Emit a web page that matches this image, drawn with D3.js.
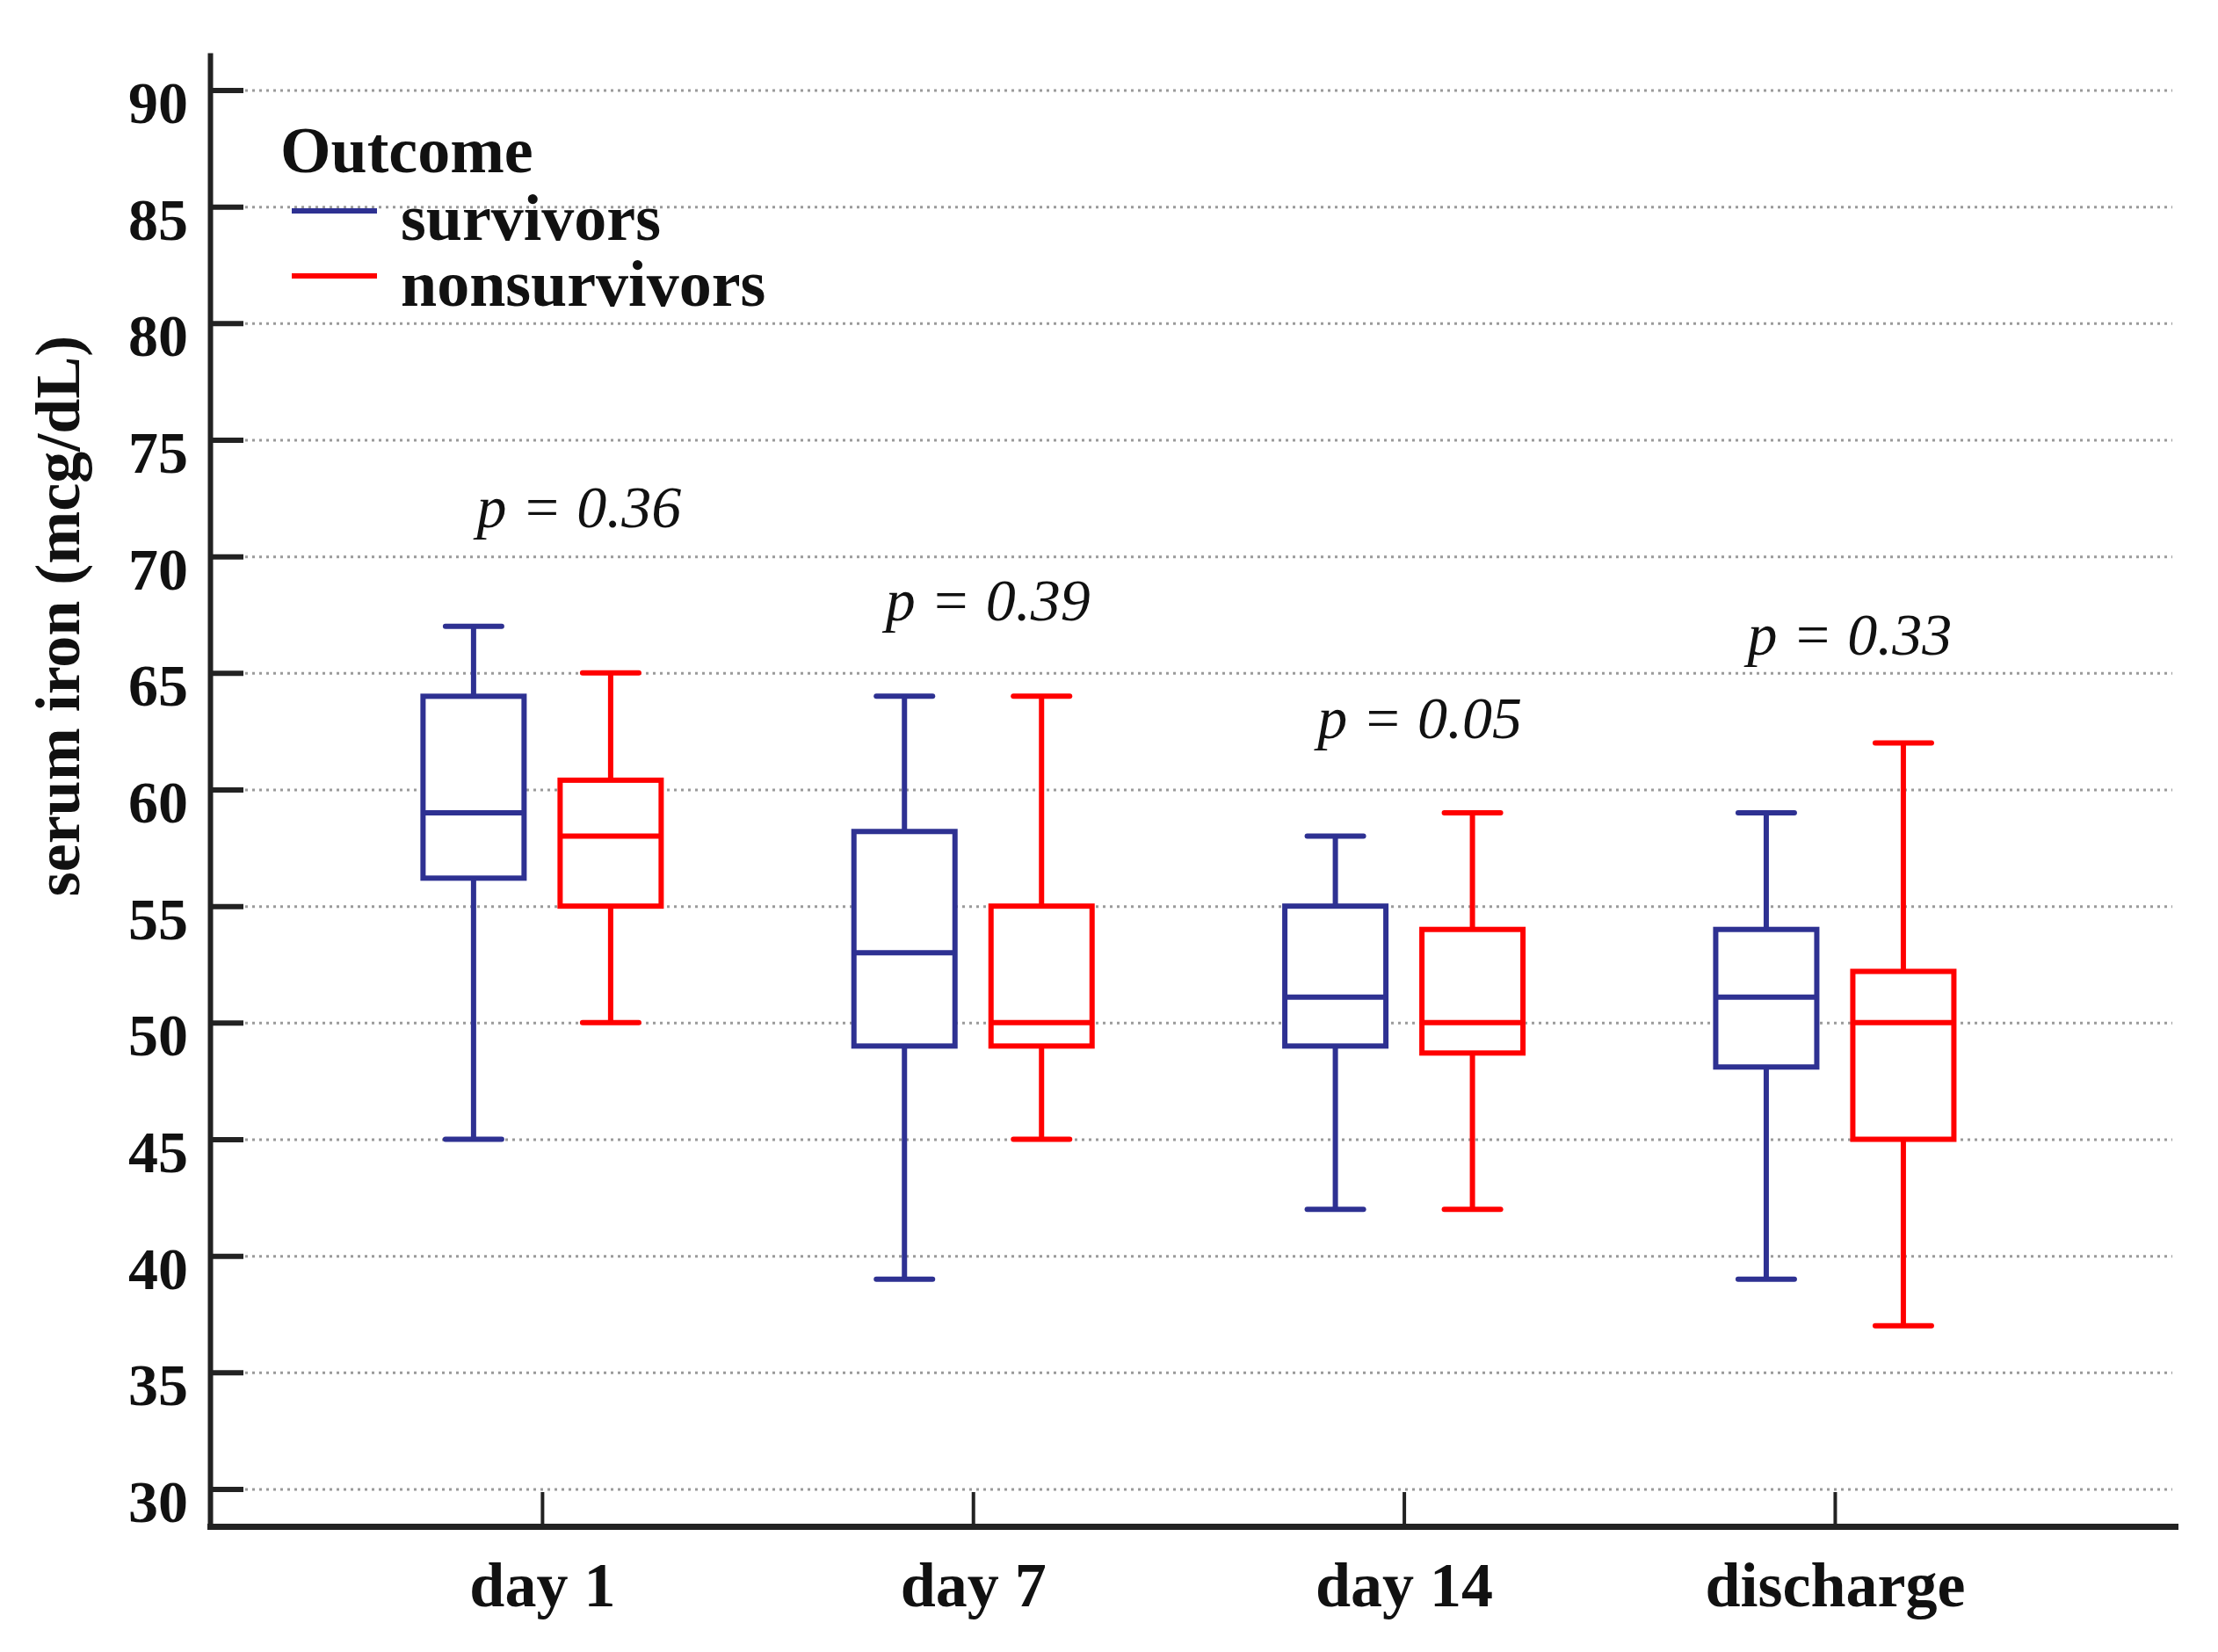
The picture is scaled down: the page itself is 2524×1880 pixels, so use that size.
<!DOCTYPE html>
<html>
<head>
<meta charset="utf-8">
<script src="https://cdn.jsdelivr.net/npm/d3@7"></script>
<style>
  body { margin: 0; background: #fff; }
  text { font-family: "Liberation Serif", "Times New Roman", serif; fill: #111; }
</style>
</head>
<body>
<div id="chart"></div>
<script>
// serum iron box plots, survivors vs nonsurvivors

var categories = ["day 1", "day 7", "day 14", "discharge"];
var groups = ["survivors", "nonsurvivors"];
var yTicks = [30, 35, 40, 45, 50, 55, 60, 65, 70, 75, 80, 85, 90];

// five number summaries
var survMin = [45, 39, 42, 39];
var survQ1  = [56.2, 49, 49, 48.1];
var survMed = [59, 53, 51.1, 51.1];
var survQ3  = [64, 58.2, 55, 54];
var survMax = [67, 64, 58, 59];

var nonMin = [50, 45, 42, 37];
var nonQ1  = [55, 49, 48.7, 45];
var nonMed = [58, 50, 50, 50];
var nonQ3  = [60.4, 55, 54, 52.2];
var nonMax = [65, 64, 59, 62];

var pValues = ["0.36", "0.39", "0.05", "0.33"];
var pLabelAt = [71.25, 67.25, 62.2, 65.8]; // value level of the p label baseline

var colors = { survivors: "#2e3192", nonsurvivors: "#ff0000" };

var W = 2524, H = 1880;
// plot edges (window.top is reserved, hence the prefixes)
var pLeft = 239, pRight = 2475, pTop = 60, pBottom = 1737;

var svg = d3.select("#chart").append("svg")
  .attr("width", W)
  .attr("height", H);

var y = d3.scaleLinear().domain([28.4, 91.6]).range([pBottom, pTop]);
var x = d3.scalePoint().domain(categories).range([pLeft, pRight]).padding(0.78).align(0.494);
var xSub = d3.scalePoint().domain(groups).range([-78, 78]);

// dotted grid lines
svg.append("g")
  .attr("transform", "translate(" + pLeft + ",0)")
  .call(d3.axisLeft(y).tickValues(yTicks).tickSize(-(2472 - pLeft)).tickFormat(""))
  .call(function(g) { g.select(".domain").remove(); })
  .selectAll("line")
  .attr("stroke", "#9a9a9a")
  .attr("stroke-width", 3)
  .attr("stroke-dasharray", "3,5");

// y axis, ticks pointing inward
var yAxis = svg.append("g")
  .attr("transform", "translate(" + pLeft + ",0)")
  .call(d3.axisLeft(y).tickValues(yTicks).tickSizeInner(-38).tickSizeOuter(0).tickPadding(25));
yAxis.select(".domain").attr("stroke", "#222").attr("stroke-width", 6);
yAxis.selectAll(".tick line").attr("stroke", "#222").attr("stroke-width", 6);
yAxis.selectAll(".tick text")
  .attr("dy", null)
  .attr("y", 37)
  .style("font-size", "68px")
  .style("font-weight", "bold")
  .attr("fill", "#111");

// x axis, ticks pointing up
var xAxis = svg.append("g")
  .attr("transform", "translate(0," + pBottom + ")")
  .call(d3.axisBottom(x).tickSizeInner(-39).tickSizeOuter(0));
xAxis.select(".domain").attr("stroke", "#222").attr("stroke-width", 7).attr("stroke-linecap", "square");
xAxis.selectAll(".tick line").attr("stroke", "#222").attr("stroke-width", 4);
xAxis.selectAll(".tick text")
  .attr("dy", null)
  .attr("y", 91)
  .style("font-size", "72px")
  .style("font-weight", "bold")
  .attr("fill", "#111");

// y axis title
svg.append("text")
  .attr("transform", "translate(90," + 701 + ") rotate(-90)")
  .attr("text-anchor", "middle")
  .style("font-size", "72px")
  .style("font-weight", "bold")
  .text("serum iron (mcg/dL)");

// build box rows
var boxes = [];
categories.forEach(function(c, i) {
  boxes.push({ cat: c, grp: "survivors", min: survMin[i], q1: survQ1[i], med: survMed[i], q3: survQ3[i], max: survMax[i] });
  boxes.push({ cat: c, grp: "nonsurvivors", min: nonMin[i], q1: nonQ1[i], med: nonMed[i], q3: nonQ3[i], max: nonMax[i] });
});

var boxW = 115, capW = 64, sw = 6;

var b = svg.append("g").selectAll("g.box")
  .data(boxes)
  .enter().append("g")
  .attr("class", "box")
  .attr("transform", function(d) { return "translate(" + (x(d.cat) + xSub(d.grp)) + ",0)"; })
  .attr("stroke", function(d) { return colors[d.grp]; })
  .attr("stroke-width", sw)
  .attr("fill", "none");

// whiskers
b.append("line")
  .attr("x1", 0).attr("x2", 0)
  .attr("y1", function(d) { return y(d.q3); })
  .attr("y2", function(d) { return y(d.max); });
b.append("line")
  .attr("x1", 0).attr("x2", 0)
  .attr("y1", function(d) { return y(d.q1); })
  .attr("y2", function(d) { return y(d.min); });
// caps
b.append("line")
  .attr("stroke-linecap", "round")
  .attr("x1", -capW / 2).attr("x2", capW / 2)
  .attr("y1", function(d) { return y(d.max); })
  .attr("y2", function(d) { return y(d.max); });
b.append("line")
  .attr("stroke-linecap", "round")
  .attr("x1", -capW / 2).attr("x2", capW / 2)
  .attr("y1", function(d) { return y(d.min); })
  .attr("y2", function(d) { return y(d.min); });
// box
b.append("rect")
  .attr("x", -boxW / 2)
  .attr("width", boxW)
  .attr("y", function(d) { return y(d.q3); })
  .attr("height", function(d) { return y(d.q1) - y(d.q3); })
  .attr("fill", "#fff");
// median
b.append("line")
  .attr("x1", -boxW / 2).attr("x2", boxW / 2)
  .attr("y1", function(d) { return y(d.med); })
  .attr("y2", function(d) { return y(d.med); });

// p labels
var pNudge = [42, 17, 18, 17];
svg.append("g").selectAll("text")
  .data(pValues)
  .enter().append("text")
  .attr("x", function(d, i) { return x(categories[i]) + pNudge[i]; })
  .attr("y", function(d, i) { return y(pLabelAt[i]); })
  .attr("text-anchor", "middle")
  .style("font-size", "68px")
  .style("font-style", "italic")
  .text(function(d) { return "p = " + d; });

// legend
var lg = svg.append("g");
lg.append("text")
  .attr("x", 319).attr("y", 196)
  .style("font-size", "74px")
  .style("font-weight", "bold")
  .text("Outcome");
groups.forEach(function(g, i) {
  lg.append("line")
    .attr("x1", 332).attr("x2", 429)
    .attr("y1", 240 + i * 74).attr("y2", 240 + i * 74)
    .attr("stroke", colors[g])
    .attr("stroke-width", 6);
  lg.append("text")
    .attr("x", 456).attr("y", 273 + i * 75)
    .style("font-size", "74px")
    .style("font-weight", "bold")
    .text(g);
});
</script>
</body>
</html>
